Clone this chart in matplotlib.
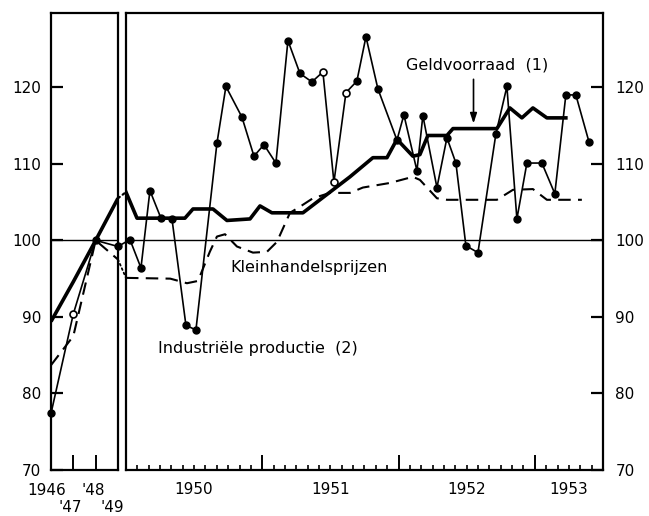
import matplotlib.pyplot as plt
from matplotlib.patches import ConnectionPatch
from matplotlib.transforms import blended_transform_factory
import numpy as np

# Linkerpaneel: jaarcijfers 1946-1949 (1948 = 100)
years = [1946, 1947, 1948, 1949]
ind_years = [77.4, 90.4, 100.0, 99.2]
geld_years = [89.4, 94.6, 100.0, 105.5]
prijs_years = [83.7, 87.5, 100.0, 97.5]
ind_years_open = [1]

# Rechterpaneel: maandcijfers, x = maanden sinds januari 1950
ind_month = [0.35, 1.32, 2.11, 3.08, 4.05, 5.28, 6.16, 8.01, 8.80, 10.21,
             11.27, 12.15, 13.20, 14.26, 15.32, 16.37, 17.34, 18.31, 19.37, 20.33,
             21.13, 22.18, 23.86, 24.47, 25.62, 26.14, 27.38, 28.26, 29.05, 29.93,
             30.99, 32.57, 33.54, 34.42, 35.30, 36.62, 37.76, 38.73, 39.61, 40.76]
ind_value = [100.1, 96.4, 106.5, 102.9, 102.8, 88.9, 88.3, 112.7, 120.1, 116.1,
             111.0, 112.5, 110.1, 126.1, 121.8, 120.7, 122.0, 107.6, 119.3, 120.8,
             126.6, 119.8, 113.1, 116.4, 109.1, 116.3, 106.9, 113.4, 110.1, 99.3,
             98.4, 113.9, 120.1, 102.8, 110.1, 110.1, 106.1, 119.0, 119.0, 112.9]
ind_open = [16, 17, 18]

geld_month = [0.0, 0.97, 5.19, 5.90, 7.66, 8.89, 10.92, 11.80, 12.85, 15.58,
              17.96, 19.72, 21.74, 22.98, 23.86, 25.26, 25.88, 26.58, 28.26, 28.79,
              32.66, 33.80, 34.86, 35.83, 37.06, 38.73]
geld_value = [106.3, 102.9, 102.9, 104.1, 104.1, 102.6, 102.8, 104.5, 103.6, 103.6,
              106.3, 108.3, 110.8, 110.8, 113.2, 111.0, 111.2, 113.7, 113.7, 114.6,
              114.6, 117.3, 116.0, 117.3, 116.0, 116.0]

prijs_month = [0.0, 3.90, 5.37, 6.34, 7.38, 8.01, 8.72, 9.77, 11.18, 12.41,
               13.29, 14.44, 15.32, 16.46, 17.96, 19.72, 20.86, 23.24, 25.26, 25.88,
               27.38, 28.26, 32.66, 34.07, 35.83, 37.06, 40.14]
prijs_value = [95.1, 95.0, 94.4, 94.7, 98.5, 100.5, 100.8, 99.2, 98.4, 98.5,
               99.8, 103.6, 104.4, 105.5, 106.2, 106.2, 106.9, 107.5, 108.3, 107.9,
               105.5, 105.3, 105.3, 106.6, 106.7, 105.3, 105.3]

yticks = [70, 80, 90, 100, 110, 120]
year_labels = ['1950', '1951', '1952', '1953']
year_label_pos = [6, 18, 30, 39]

plt.rcParams['font.family'] = 'DejaVu Sans'
fig = plt.figure(figsize=(6.49, 5.16), dpi=100)
ax1 = fig.add_axes([0.0786, 0.0891, 0.1032, 0.8857])
ax2 = fig.add_axes([0.1941, 0.0891, 0.7350, 0.8857])

dash = (0, (6, 3.5))
fs = 11.5

for ax in (ax1, ax2):
    ax.set_ylim(70, 129.7)
    for s in ax.spines.values():
        s.set_linewidth(1.6)
    ax.axhline(100, color='black', lw=1.0, zorder=1)

# linkerpaneel
ax1.set_xlim(1946, 1949)
ax1.plot(years, geld_years, color='black', lw=2.6, solid_capstyle='butt')
ax1.plot(years, prijs_years, color='black', lw=1.5, ls=dash)
ax1.plot(years, ind_years, color='black', lw=1.2)
ind_years_arr = np.array(ind_years)
years_arr = np.array(years)
mask = np.ones(len(years), bool)
mask[ind_years_open] = False
ax1.plot(years_arr[mask], ind_years_arr[mask], 'o', color='black', ms=5, clip_on=False)
ax1.plot(years_arr[~mask], ind_years_arr[~mask], 'o', mfc='white', mec='black', mew=1.2, ms=5)
ax1.set_xticks([1947, 1948])
ax1.set_xticklabels([])
ax1.tick_params(axis='x', direction='in', length=11, width=1.4)
ax1.set_yticks(yticks)
ax1.tick_params(axis='y', direction='in', length=8.5, width=1.6, pad=7, labelsize=11)

tr1 = blended_transform_factory(ax1.transData, ax1.transAxes)
ax1.text(1945.82, -0.044, '1946', transform=tr1, ha='center', va='center', fontsize=11)
ax1.text(1947.88, -0.044, "'48", transform=tr1, ha='center', va='center', fontsize=11)
ax1.text(1946.85, -0.083, "'47", transform=tr1, ha='center', va='center', fontsize=11)
ax1.text(1948.73, -0.083, "'49", transform=tr1, ha='center', va='center', fontsize=11)

# rechterpaneel
ax2.set_xlim(0, 42)
ax2.plot(geld_month, geld_value, color='black', lw=2.6)
ax2.plot(prijs_month, prijs_value, color='black', lw=1.5, ls=dash)
ax2.plot(ind_month, ind_value, color='black', lw=1.2)
im = np.array(ind_month)
iv = np.array(ind_value)
mask2 = np.ones(len(im), bool)
mask2[ind_open] = False
ax2.plot(im[mask2], iv[mask2], 'o', color='black', ms=5)
ax2.plot(im[~mask2], iv[~mask2], 'o', mfc='white', mec='black', mew=1.2, ms=5)

ax2.set_xticks([12, 24, 36])
ax2.set_xticks(np.arange(1, 42), minor=True)
ax2.set_xticklabels([])
ax2.tick_params(axis='x', which='major', direction='in', length=11, width=1.4)
ax2.tick_params(axis='x', which='minor', direction='in', length=3.5, width=1.2)
ax2.set_yticks(yticks)
ax2.yaxis.tick_right()
ax2.tick_params(axis='y', direction='in', length=8.5, width=1.6, pad=9, labelsize=11)

tr2 = blended_transform_factory(ax2.transData, ax2.transAxes)
for lab, pos in zip(year_labels, year_label_pos):
    ax2.text(pos, -0.042, lab, transform=tr2, ha='center', va='center', fontsize=11)

# verbindingen tussen de panelen
for v_left, v_right, x_right, style, lw in [(geld_years[-1], geld_value[0], geld_month[0], ':', 1.6),
                                            (prijs_years[-1], prijs_value[0], prijs_month[0], ':', 1.3),
                                            (ind_years[-1], ind_value[0], ind_month[0], '-', 1.2)]:
    con = ConnectionPatch(xyA=(years[-1], v_left), coordsA=ax1.transData,
                          xyB=(x_right, v_right), coordsB=ax2.transData,
                          color='black', lw=lw, ls=style)
    fig.add_artist(con)

# teksten
ax2.text(30.9, 122.9, 'Geldvoorraad  (1)', ha='center', va='center', fontsize=fs)
ax2.annotate('', xy=(30.6, 114.9), xytext=(30.6, 121.4),
             arrowprops=dict(arrowstyle='-|>,head_width=0.2,head_length=0.6',
                             color='black', lw=1.2))
ax2.text(16.1, 96.5, 'Kleinhandelsprijzen', ha='center', va='center', fontsize=fs)
ax2.text(11.6, 85.9, 'Industriële productie  (2)', ha='center', va='center', fontsize=fs)

plt.savefig('out.png', dpi=100)
